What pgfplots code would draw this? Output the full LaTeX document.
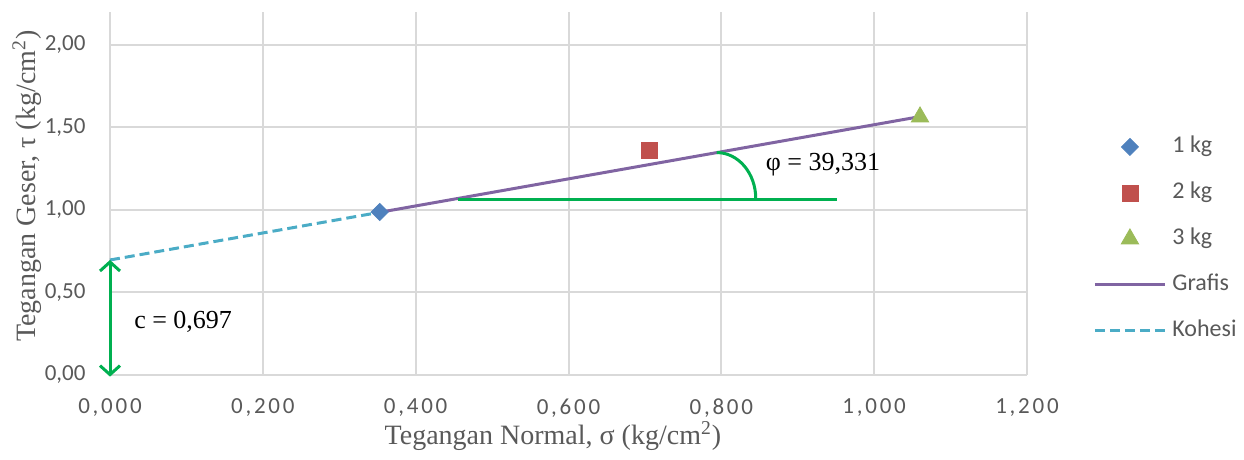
\documentclass[border=0pt]{standalone}
\usepackage{pgfplots}
\pgfplotsset{compat=1.18}
\usepackage{fontspec}
\setmainfont{Liberation Serif}
\newfontfamily\tickfont[LetterSpace=12]{Carlito}
\newfontfamily\calibri{Carlito}
\usetikzlibrary{arrows.meta}
\definecolor{cblue}{HTML}{4F81BD}
\definecolor{cred}{HTML}{C0504D}
\definecolor{cgreen}{HTML}{9BBB59}
\definecolor{cpurple}{HTML}{8064A2}
\definecolor{caqua}{HTML}{4BACC6}
\definecolor{annot}{HTML}{00B050}
\definecolor{gridgray}{HTML}{D9D9D9}
\definecolor{tickgray}{HTML}{595959}
\begin{document}
\begin{tikzpicture}
\useasboundingbox (0,0) rectangle (622pt,230pt);
\begin{axis}[
  at={(55pt,42.5pt)}, anchor=south west,
  scale only axis, width=458.5pt, height=181.5pt,
  xmin=0, xmax=1.2, ymin=0, ymax=2.2,
  xtick={0,0.2,0.4,0.6,0.8,1.0,1.2},
  ytick={0,0.5,1,1.5,2},
  grid=major,
  major grid style={draw=gridgray, line width=1pt},
  axis line style={draw=none},
  major tick length=0pt,
  clip=false,
  /pgf/number format/assume math mode=true,
  xticklabel style={font=\tickfont\fontsize{11.5}{12}\selectfont, text=tickgray, yshift=-8.5pt,
    /pgf/number format/.cd, fixed, fixed zerofill, precision=3, use comma},
  yticklabel style={font=\calibri\fontsize{11.5}{12}\selectfont, text=tickgray, xshift=-8.7pt,
    /pgf/number format/.cd, fixed, fixed zerofill, precision=2, use comma},
  xlabel={Tegangan Normal, σ (kg/cm\textsuperscript{2})},
  ylabel={Tegangan Geser, τ (kg/cm\textsuperscript{2})},
  label style={font=\fontsize{14}{16}\selectfont, text=tickgray},
  xlabel style={at={(axis description cs:0.483,-0.168)}, anchor=center},
  ylabel style={at={(axis description cs:-0.0905,0.52)}, anchor=center},
  legend style={draw=none, fill=none, at={(axis description cs:1.072,0.657)}, anchor=north west,
    font=\calibri\fontsize{12}{14}\selectfont, text=tickgray, row sep=13pt, column sep=3pt,
    inner sep=0pt, nodes={inner sep=0pt, text height=8pt, text depth=2pt}},
  legend cell align=left,
  legend image code/.code={\draw[mark repeat=2,mark phase=2,#1] plot coordinates {(0pt,0pt) (17.5pt,0pt) (35pt,0pt)};},
]
\addplot[forget plot, caqua, line width=1.5pt, dash pattern=on 5pt off 2.5pt] coordinates {(0,0.697) (0.353,0.986)};
\addplot[forget plot, cpurple, line width=1.5pt] coordinates {(0.353,0.986) (1.060,1.566)};
\addplot[only marks, mark=square*, mark size=3pt, mark options={rotate=45, fill=cblue, draw=cblue}] coordinates {(0.353,0.988)};
\addlegendentry{1 kg}
\addplot[only marks, mark=square*, mark size=4pt, mark options={fill=cred, draw=cred}] coordinates {(0.706,1.364)};
\addlegendentry{2 kg}
\addplot[only marks, mark=triangle*, mark size=5pt, mark options={fill=cgreen, draw=cgreen}] coordinates {(1.060,1.564)};
\addlegendentry{3 kg}
\addlegendimage{cpurple, line width=1.5pt}
\addlegendentry{Grafis}
\addlegendimage{caqua, line width=1.5pt, dash pattern=on 5pt off 2.5pt}
\addlegendentry{Kohesi}
% annotations
\draw[annot, line width=1.5pt] (axis cs:0.456,1.061) -- (axis cs:0.951,1.061);
\draw[annot, line width=1.5pt] (axis cs:0.794,1.348) arc[start angle=90, end angle=0, x radius=19.5pt, y radius=23pt];
\draw[annot, line width=1.5pt, {Straight Barb[length=4.5pt,width=10pt]}-{Straight Barb[length=4.5pt,width=10pt]}] (axis cs:0,-0.01) -- (axis cs:0,0.697);
\node[font=\fontsize{13}{15}\selectfont] at (axis cs:0.0957,0.321) {c = 0,697};
\node[font=\fontsize{13}{15}\selectfont] at (axis cs:0.933,1.273) {φ = 39,331};
\end{axis}
\end{tikzpicture}
\end{document}
